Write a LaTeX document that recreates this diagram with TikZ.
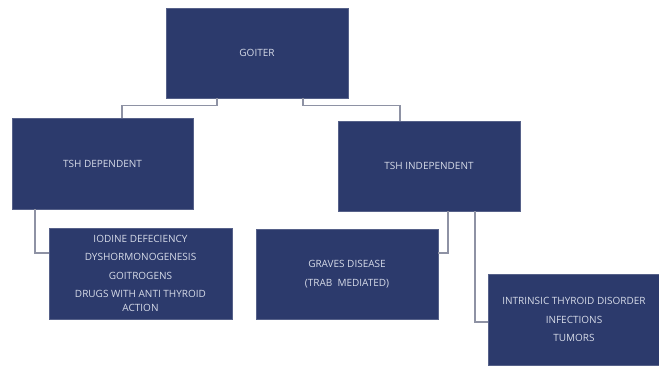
\documentclass[tikz,border=0pt]{standalone}
\usepackage{fontspec}
\setmainfont{Open Sans}
\usetikzlibrary{calc}
\definecolor{boxblue}{HTML}{2C3A6C}
\definecolor{linegrey}{HTML}{8E92A4}
\definecolor{txt}{HTML}{D6DBE8}
\begin{document}
\begin{tikzpicture}[x=1pt,y=-1pt,
  box/.style={fill=boxblue, draw=boxblue!80!white, line width=0.6pt, text=txt, align=center, font=\fontsize{10}{18.5}\selectfont, inner sep=2pt},
  conn/.style={draw=linegrey, line width=1.4pt}]
\useasboundingbox (0,0) rectangle (659,366);
\node[box, minimum width=182pt, minimum height=90pt] (goiter) at (257,53) {GOITER};
\node[box, minimum width=181pt, minimum height=91pt] (dep) at (102.5,163.5) {TSH DEPENDENT};
\node[box, minimum width=182pt, minimum height=90pt] (indep) at (429,166) {TSH INDEPENDENT};
\node[box, minimum width=183pt, minimum height=91pt] (id) at (140.5,273.5) {IODINE DEFECIENCY\\DYSHORMONOGENESIS\\GOITROGENS\\DRUGS WITH ANTI THYROID\\[-4.5pt]ACTION};
\node[box, minimum width=182pt, minimum height=90pt] (graves) at (347,274) {GRAVES DISEASE\\(TRAB\ \ MEDIATED)};
\node[box, minimum width=171pt, minimum height=91pt] (intr) at (574,319.5) {INTRINSIC THYROID DISORDER\\INFECTIONS\\TUMORS};
\draw[conn] ($(goiter.south)+(-40,0)$) -- ++(0,7) -| ($(dep.north)+(19.5,0)$);
\draw[conn] ($(goiter.south)+(46,0)$) -- ++(0,7) -| ($(indep.north)+(-29,0)$);
\draw[conn] ($(dep.south)+(-67.5,0)$) |- ($(id.west)+(0,-20.5)$);
\draw[conn] ($(indep.south)+(19,0)$) |- ($(graves.east)+(0,-21)$);
\draw[conn] ($(indep.south)+(46,0)$) |- ($(intr.west)+(0,2.5)$);
\end{tikzpicture}
\end{document}
